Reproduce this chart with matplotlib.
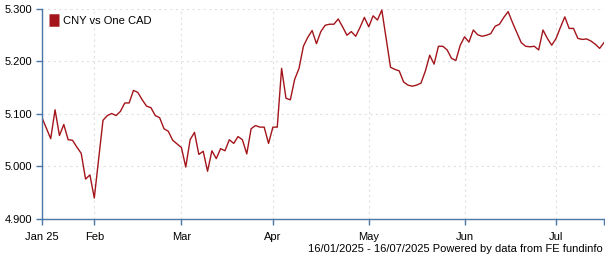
import matplotlib
matplotlib.use('Agg')
import matplotlib.pyplot as plt
import numpy as np
import pandas as pd

plt.rcParams['font.family'] = ['Liberation Sans', 'DejaVu Sans']

# business days 16 Jan 2025 .. 16 Jul 2025
dates = pd.bdate_range('2025-01-16', '2025-07-16')

# CNY per one CAD
rate = [5.093, 5.073, 5.053, 5.108, 5.059, 5.080, 5.051, 5.050, 5.037, 5.025,
        4.976, 4.984, 4.940, 5.014, 5.088, 5.097, 5.101, 5.097, 5.105, 5.121,
        5.121, 5.145, 5.141, 5.127, 5.115, 5.112, 5.097, 5.093, 5.072, 5.067,
        5.050, 5.043, 5.036, 4.999, 5.051, 5.065, 5.023, 5.029, 4.991, 5.030,
        5.015, 5.034, 5.030, 5.051, 5.044, 5.057, 5.051, 5.024, 5.072, 5.078,
        5.075, 5.075, 5.044, 5.075, 5.075, 5.187, 5.130, 5.127, 5.166, 5.187,
        5.229, 5.246, 5.259, 5.234, 5.257, 5.269, 5.271, 5.271, 5.281, 5.266,
        5.250, 5.257, 5.248, 5.265, 5.284, 5.266, 5.287, 5.279, 5.298, 5.244,
        5.189, 5.185, 5.182, 5.161, 5.155, 5.153, 5.155, 5.159, 5.182, 5.212,
        5.195, 5.229, 5.229, 5.222, 5.206, 5.202, 5.231, 5.247, 5.237, 5.260,
        5.251, 5.248, 5.250, 5.253, 5.267, 5.271, 5.284, 5.295, 5.274, 5.255,
        5.236, 5.229, 5.228, 5.229, 5.222, 5.260, 5.244, 5.231, 5.244, 5.265,
        5.285, 5.263, 5.263, 5.244, 5.242, 5.243, 5.239, 5.233, 5.225, 5.236]

yticks = [4.9, 5.0, 5.1, 5.2, 5.3]
series_name = 'CNY vs One CAD'
footer = '16/01/2025 - 16/07/2025 Powered by data from FE fundinfo'

LINE = '#a3151b'
AXC = '#4a76a8'
FS = 8

x = np.arange(len(rate))
# first business day of each month
month = dates.to_period('M')
first = [i for i in range(len(dates)) if i == 0 or month[i] != month[i - 1]]
labels = ['Jan 25' if i == 0 else dates[i].strftime('%b') for i in first]

fig = plt.figure(figsize=(6.05, 2.6), dpi=100)
ax = fig.add_axes([42 / 605, 1 - 219 / 260, 562 / 605, 210 / 260])

ax.plot(x, rate, color=LINE, lw=1.0, label=series_name)

ax.set_xlim(0, len(rate) - 1)
ax.set_ylim(4.9, 5.3)
ax.set_yticks(yticks)
ax.set_yticklabels(['%.3f' % v for v in yticks], fontsize=FS)
ax.set_xticks(first)
ax.set_xticklabels(labels, fontsize=FS)
ax.set_xticks([len(rate) - 1], minor=True)

ax.grid(True, color='#e0e0e0', ls=(0, (2, 3)), lw=0.8)
ax.set_axisbelow(True)
for s in ['top', 'right']:
    ax.spines[s].set_visible(False)
for s in ['left', 'bottom']:
    ax.spines[s].set_color(AXC)
    ax.spines[s].set_linewidth(1.0)
ax.tick_params(axis='y', color=AXC, length=4, width=1, pad=3)
ax.tick_params(axis='x', which='both', color=AXC, length=4, width=1, pad=5)

leg = ax.legend(loc='upper left', frameon=False, fontsize=FS, handlelength=0.9,
                handleheight=0.9, handletextpad=0.4, borderaxespad=0.2)
for h in leg.legend_handles:
    h.set_linewidth(9)
    h.set_solid_capstyle('butt')

fig.text(603 / 605, 1 - 249 / 260, footer, ha='right', va='center', fontsize=FS)

fig.savefig('out.png', dpi=100)
